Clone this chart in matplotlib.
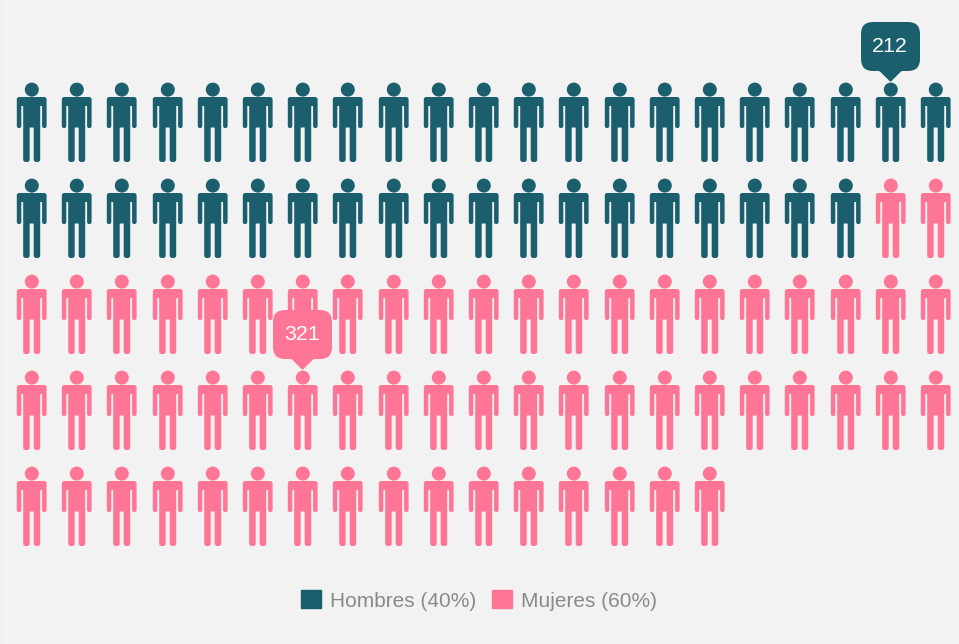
import numpy as np
import matplotlib
matplotlib.use('Agg')
import matplotlib.pyplot as plt
from matplotlib.lines import Line2D
from matplotlib.patches import Patch
from matplotlib.path import Path

# Data
groups = ['Hombres (40%)', 'Mujeres (60%)']
counts = [40, 60]
colors = ['#1b5e6e', '#ff7596']
n_cols = 21
tooltip_values = [212, 321]
tooltip_cells = [19, 69]  # position of the person in the fill order

BG = '#f2f2f2'
W, H, DPI = 959, 644, 100

# pixel layout of the grid
X0, DX = 31.0, 45.2
Y0, DY = 121.5, 96.0


def rounded_poly(pts, r):
    """Closed polygon with rounded corners, (x, y, radius) or (x, y)"""
    verts, codes = [], []
    n = len(pts)
    for i in range(n):
        p = np.array(pts[i][:2], dtype=float)
        rad = pts[i][2] if len(pts[i]) > 2 else r
        a = np.array(pts[i - 1][:2], dtype=float)
        b = np.array(pts[(i + 1) % n][:2], dtype=float)
        start = p + (a - p) / np.linalg.norm(a - p) * rad
        end = p + (b - p) / np.linalg.norm(b - p) * rad
        verts.append(start)
        codes.append(Path.MOVETO if i == 0 else Path.LINETO)
        verts.extend([p, end])
        codes.extend([Path.CURVE3, Path.CURVE3])
    verts.append(verts[0])
    codes.append(Path.CLOSEPOLY)
    return Path(verts, codes)


def marker_size(path):
    # custom markers get scaled so the largest coordinate is 0.5
    biggest = np.abs(path.vertices).max()
    return (2 * biggest * 72 / DPI) ** 2


# person icon in pixels around its centre, y up
head = Path.circle((0.3, 32.9), 7.0)
body = rounded_poly([
    (-14.7, 25.5, 2.5), (15.1, 25.5, 2.5), (15.1, -5.5, 2.0), (10.6, -5.5, 2.0),
    (10.6, 16.5, 0.4), (8.7, 16.5, 0.4), (8.7, -39.5, 2.5), (2.2, -39.5, 2.5),
    (2.2, -5.0, 0.3), (-1.8, -5.0, 0.3), (-1.8, -39.5, 2.5), (-8.3, -39.5, 2.5),
    (-8.3, 16.5, 0.4), (-10.2, 16.5, 0.4), (-10.2, -5.5, 2.0), (-14.7, -5.5, 2.0),
], 1.0)
person = Path.make_compound_path(head, body)

# tooltip bubble, pointer tip just above the head
bubble = rounded_poly([
    (-29.5, 100.5, 12), (29.5, 100.5, 12), (29.5, 51.5, 12), (11, 51.5, 1.5),
    (0, 40.5, 1.0), (-11, 51.5, 1.5), (-29.5, 51.5, 12),
], 1.0)

# grid position of every person
group_idx = np.repeat(np.arange(len(counts)), counts)
cells = np.arange(group_idx.size)
cols = cells % n_cols
rows = cells // n_cols

fig = plt.figure(figsize=(W / DPI, H / DPI), dpi=DPI, facecolor=BG)
ax = fig.add_axes([0, 0, 1, 1])
ax.set_facecolor(BG)
ax.set_xlim(-X0 / DX, (W - X0) / DX)
ax.set_ylim((H - Y0) / DY, -Y0 / DY)
ax.axis('off')

for i, name in enumerate(groups):
    mask = group_idx == i
    ax.scatter(cols[mask], rows[mask], marker=person, s=marker_size(person),
               color=colors[i], linewidths=0, zorder=2)

for value, cell in zip(tooltip_values, tooltip_cells):
    col, row = cols[cell], rows[cell]
    c = colors[group_idx[cell]]
    ax.scatter([col], [row], marker=bubble, s=marker_size(bubble), color=c,
               linewidths=0, zorder=3)
    ax.annotate(str(value), xy=(col, row), xytext=(0, 75),
                textcoords='offset pixels', ha='center', va='center',
                color='white', fontsize=15.4, family='Liberation Sans', zorder=4)

handles = [Patch(facecolor=c, edgecolor=c, label=g) for c, g in zip(colors, groups)]
leg = fig.legend(handles=handles, loc='center', bbox_to_anchor=(479 / W, 1 - 600.5 / H),
                 ncol=2, frameon=False, labelcolor='#8a8a8a',
                 prop={'family': 'Liberation Sans', 'size': 15.0},
                 handlelength=0.93, handleheight=0.95, handletextpad=0.42,
                 columnspacing=0.8, borderpad=0)

# faint line on the left edge of the screenshot
fig.add_artist(Line2D([6.5 / W, 6.5 / W], [0, 1], color='#f7f7f7', lw=1))

fig.savefig('out.png', dpi=DPI, facecolor=BG)
